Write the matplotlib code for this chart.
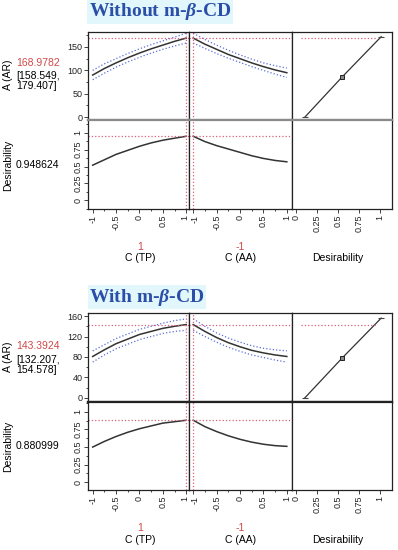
import numpy as np
import matplotlib.pyplot as plt
import matplotlib.transforms as mtransforms
from matplotlib.ticker import MultipleLocator

plt.rcParams['font.family'] = ['Liberation Sans', 'DejaVu Sans']
plt.rcParams['mathtext.fontset'] = 'custom'
plt.rcParams['mathtext.rm'] = 'Liberation Serif:bold'
plt.rcParams['mathtext.it'] = 'Liberation Serif:bold:italic'

# factor levels (coded)
x_levels = [-1, -0.75, -0.5, -0.25, 0, 0.25, 0.5, 0.75, 1]

# Without m-beta-CD
wo_ar_tp = [90, 104, 116, 127, 137, 146, 154, 162, 168.9782]
wo_ar_tp_lo = [80, 94, 107, 118, 128, 137, 145, 152, 158.549]
wo_ar_tp_hi = [100, 114, 125, 136, 146, 155, 163, 171, 179.407]
wo_ar_aa = [168.9782, 156, 145, 134, 125, 116, 108, 101, 95]
wo_ar_aa_lo = [158.549, 147, 136, 126, 117, 108, 100, 92, 85]
wo_ar_aa_hi = [179.407, 166, 154, 143, 133, 124, 116, 110, 105]
wo_des_tp = [0.52, 0.60, 0.68, 0.74, 0.80, 0.85, 0.89, 0.92, 0.948624]
wo_des_aa = [0.948624, 0.87, 0.81, 0.76, 0.71, 0.66, 0.62, 0.59, 0.57]
wo_dfun_x = [0.1, 0.55, 1.02]
wo_dfun_y = [0, 86, 172]

# With m-beta-CD
w_ar_tp = [81, 94, 106, 115, 124, 130, 136, 140, 143.3924]
w_ar_tp_lo = [70, 84, 96, 105, 114, 120, 126, 130, 132.207]
w_ar_tp_hi = [92, 104, 116, 125, 134, 140, 146, 151, 154.578]
w_ar_aa = [143.3924, 130, 118, 108, 100, 93, 88, 84, 81]
w_ar_aa_lo = [132.207, 120, 109, 99, 91, 84, 79, 74, 70]
w_ar_aa_hi = [154.578, 140, 127, 117, 109, 102, 97, 94, 92]
w_des_tp = [0.50, 0.58, 0.65, 0.71, 0.76, 0.80, 0.84, 0.86, 0.880999]
w_des_aa = [0.880999, 0.79, 0.72, 0.66, 0.61, 0.57, 0.54, 0.52, 0.51]
w_dfun_x = [0.1, 0.55, 1.02]
w_dfun_y = [0, 78, 156]

W, H = 398, 550
fig = plt.figure(figsize=(W / 100, H / 100), dpi=100)

RED = '#d8607a'
BLUE = '#5b6fd6'
TITLE = '#2b4fa8'
VALRED = '#d04848'


def box(x0, x1, y0, y1):
    return [x0 / W, 1 - y1 / H, (x1 - x0) / W, (y1 - y0) / H]


def nudge(label, dx_px):
    off = mtransforms.ScaledTranslation(dx_px / 100, 0, fig.dpi_scale_trans)
    label.set_transform(label.get_transform() + off)


cols = [88, 189, 291.5, 392]


def panel(rows, title, title_xy, ar_lim, ar_major, ar_minor,
          ar_tp, tp_lo, tp_hi, ar_aa, aa_lo, aa_hi, des_tp, des_aa,
          dfun_x, dfun_y, des_lim, sep_color, val, ci, dval, text_y):
    fig.text(title_xy[0] / W, 1 - title_xy[1] / H, title, color=TITLE, fontsize=14,
             family='Liberation Serif', weight='bold', ha='center', va='center',
             bbox=dict(facecolor='#e2f7fb', edgecolor='none', pad=1))
    ax = {}
    for r in range(2):
        for c in range(3):
            a = fig.add_axes(box(cols[c], cols[c + 1], rows[r], rows[r + 1]))
            for s in a.spines.values():
                s.set_linewidth(0.9)
                s.set_color('#222222')
            a.tick_params(labelsize=6.5, length=3, width=0.6, colors='#222222', pad=1)
            a.tick_params(which='minor', length=1.5, width=0.5)
            ax[r, c] = a
    for c in range(3):
        ax[0, c].spines['bottom'].set_color(sep_color)
        ax[0, c].spines['bottom'].set_linewidth(1.6)
        ax[1, c].spines['top'].set_color(sep_color)
        ax[1, c].spines['top'].set_linewidth(1.6)

    # response row
    a = ax[0, 0]
    a.plot(x_levels, ar_tp, color='#333333', lw=1.1)
    a.plot(x_levels, tp_lo, color=BLUE, lw=0.9, ls=':')
    a.plot(x_levels, tp_hi, color=BLUE, lw=0.9, ls=':')
    a = ax[0, 1]
    a.plot(x_levels, ar_aa, color='#333333', lw=1.1)
    a.plot(x_levels, aa_lo, color=BLUE, lw=0.9, ls=':')
    a.plot(x_levels, aa_hi, color=BLUE, lw=0.9, ls=':')
    a = ax[0, 2]
    a.plot(dfun_x, dfun_y, color='#333333', lw=0.9)
    a.plot(dfun_x[1], dfun_y[1], marker='s', ms=3.5, mfc='#888888', mec='#222222', mew=0.7)
    a.plot([dfun_x[0], dfun_x[2]], [dfun_y[0], dfun_y[2]], ls='none', marker='_',
           ms=4, color='#444444', mew=0.8)
    for c in range(3):
        ax[0, c].set_ylim(*ar_lim)
    ax[0, 0].axhline(ar_tp[-1], color=RED, lw=0.9, ls=':')
    ax[0, 1].axhline(ar_aa[0], color=RED, lw=0.9, ls=':')
    ax[0, 2].plot([0.05, 0.97], [ar_tp[-1], ar_tp[-1]], color=RED, lw=0.9, ls=':')

    # desirability row
    ax[1, 0].plot(x_levels, des_tp, color='#333333', lw=1.1)
    ax[1, 1].plot(x_levels, des_aa, color='#333333', lw=1.1)
    ax[1, 0].axhline(des_tp[-1], color=RED, lw=0.9, ls=':')
    ax[1, 1].axhline(des_aa[0], color=RED, lw=0.9, ls=':')
    for c in range(3):
        ax[1, c].set_ylim(*des_lim)

    for r in range(2):
        ax[r, 0].set_xlim(-1.1, 1.06)
        ax[r, 1].set_xlim(-1.09, 1.1)
        ax[r, 2].set_xlim(-0.06, 1.15)
        ax[r, 0].axvline(1, color=RED, lw=0.9, ls=':')
        ax[r, 1].axvline(-1, color=RED, lw=0.9, ls=':')

    # ticks
    for c in range(3):
        ax[0, c].set_xticks([])
        if c > 0:
            ax[0, c].set_yticks([])
            ax[1, c].set_yticks([])
    ax[0, 0].yaxis.set_major_locator(MultipleLocator(ar_major))
    ax[0, 0].yaxis.set_minor_locator(MultipleLocator(ar_minor))
    ax[1, 0].set_yticks([0, 0.25, 0.5, 0.75, 1])
    ax[1, 0].set_yticklabels(['0', '0.25', '0.5', '0.75', '1'], rotation=90, va='center')
    ax[1, 0].yaxis.set_minor_locator(MultipleLocator(0.125))
    for c in range(2):
        ax[1, c].set_xticks([-1, -0.5, 0, 0.5, 1])
        ax[1, c].set_xticklabels(['-1', '-0.5', '0', '0.5', '1'], rotation=90)
        ax[1, c].xaxis.set_minor_locator(MultipleLocator(0.25))
    ax[1, 2].set_xticks([0, 0.25, 0.5, 0.75, 1])
    ax[1, 2].set_xticklabels(['0', '0.25', '0.5', '0.75', '1'], rotation=90)
    # the "1" and "-1" labels next to the column divider sit very close
    nudge(ax[1, 0].get_xticklabels()[-1], -1.5)
    nudge(ax[1, 1].get_xticklabels()[0], 1.5)

    # side text
    ty = text_y
    fig.text(8 / W, 1 - ty[0] / H, 'A (AR)', rotation=90, fontsize=7.5, ha='center', va='center')
    fig.text(16 / W, 1 - ty[1] / H, val, color=VALRED, fontsize=7.5, ha='left', va='center')
    fig.text(16 / W, 1 - ty[2] / H, ci[0], fontsize=7.5, ha='left', va='center')
    fig.text(16 / W, 1 - ty[3] / H, ci[1], fontsize=7.5, ha='left', va='center')
    fig.text(8 / W, 1 - ty[4] / H, 'Desirability', rotation=90, fontsize=7.5, ha='center', va='center')
    fig.text(16 / W, 1 - ty[4] / H, dval, fontsize=7.5, ha='left', va='center')

    # factor labels
    fig.text(140 / W, 1 - ty[5] / H, '1', color=VALRED, fontsize=7.5, ha='center', va='center')
    fig.text(140 / W, 1 - ty[6] / H, 'C (TP)', fontsize=7.5, ha='center', va='center')
    fig.text(240 / W, 1 - ty[5] / H, '-1', color=VALRED, fontsize=7.5, ha='center', va='center')
    fig.text(241 / W, 1 - ty[6] / H, 'C (AA)', fontsize=7.5, ha='center', va='center')
    fig.text(338 / W, 1 - ty[6] / H, 'Desirability', fontsize=7.5, ha='center', va='center')


panel([32, 120, 209], r'Without m-$\beta$-CD', (160, 12), (-6, 182), 50, 25,
      wo_ar_tp, wo_ar_tp_lo, wo_ar_tp_hi, wo_ar_aa, wo_ar_aa_lo, wo_ar_aa_hi,
      wo_des_tp, wo_des_aa, wo_dfun_x, wo_dfun_y, (-0.13, 1.19), '#8a8a8a',
      '168.9782', ['[158.549,', '179.407]'], '0.948624',
      [75, 63, 76, 86, 165, 247, 258])

panel([313, 402, 490], r'With m-$\beta$-CD', (147, 297), (-8, 166), 40, 20,
      w_ar_tp, w_ar_tp_lo, w_ar_tp_hi, w_ar_aa, w_ar_aa_lo, w_ar_aa_hi,
      w_des_tp, w_des_aa, w_dfun_x, w_dfun_y, (-0.11, 1.14), '#222222',
      '143.3924', ['[132.207,', '154.578]'], '0.880999',
      [357, 346, 360, 370, 446, 528, 540])

fig.savefig('out.png', dpi=100)
